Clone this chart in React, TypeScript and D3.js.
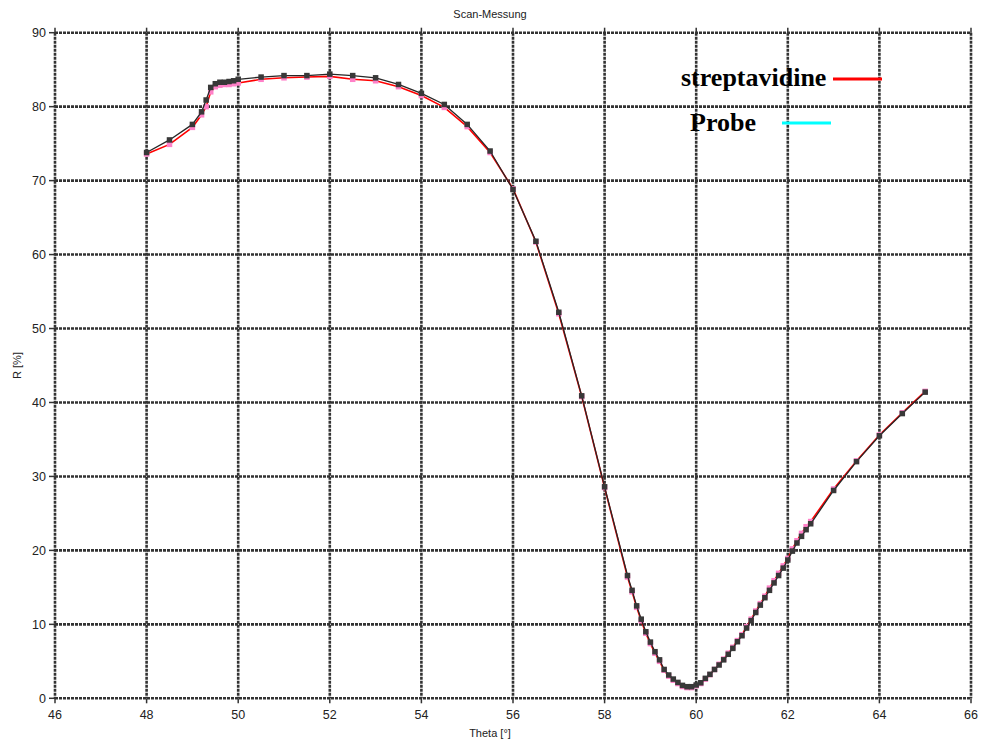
import React from "react";
import * as d3 from "d3";

const thetaDark = [48, 48.5, 49, 49.2, 49.3, 49.4, 49.5, 49.6, 49.7, 49.8, 49.9, 50, 50.5, 51, 51.5, 52, 52.5, 53, 53.5, 54, 54.5, 55, 55.5, 56, 56.5, 57, 57.5, 58, 58.5, 58.6, 58.7, 58.8, 58.9, 59, 59.1, 59.2, 59.3, 59.4, 59.5, 59.6, 59.7, 59.8, 59.9, 60, 60.1, 60.2, 60.3, 60.4, 60.5, 60.6, 60.7, 60.8, 60.9, 61, 61.1, 61.2, 61.3, 61.4, 61.5, 61.6, 61.7, 61.8, 61.9, 62, 62.1, 62.2, 62.3, 62.4, 62.5, 63, 63.5, 64, 64.5, 65];
const rDark = [73.8, 75.5, 77.6, 79.3, 80.9, 82.6, 83.1, 83.3, 83.3, 83.4, 83.5, 83.7, 84.0, 84.2, 84.2, 84.4, 84.2, 83.9, 83.0, 81.8, 80.3, 77.6, 74.0, 68.8, 61.8, 52.2, 40.9, 28.6, 16.6, 14.6, 12.5, 10.7, 9.0, 7.6, 6.3, 5.2, 3.9, 3.15, 2.6, 2.15, 1.75, 1.57, 1.57, 1.8, 2.1, 2.7, 3.24, 3.9, 4.5, 5.2, 5.95, 6.75, 7.65, 8.46, 9.5, 10.5, 11.6, 12.6, 13.6, 14.6, 15.6, 16.6, 17.6, 18.7, 19.9, 21.0, 21.9, 22.8, 23.6, 28.1, 32.0, 35.5, 38.5, 41.4];

const thetaRed = [48, 48.5, 49, 49.2, 49.3, 49.4, 49.5, 49.6, 49.7, 49.8, 49.9, 50, 50.5, 51, 51.5, 52, 52.5, 53, 53.5, 54, 54.5, 55, 55.5, 56, 56.5, 57, 57.5, 58, 58.5, 58.6, 58.7, 58.8, 58.9, 59, 59.1, 59.2, 59.3, 59.4, 59.5, 59.6, 59.7, 59.8, 59.9, 60, 60.1, 60.2, 60.3, 60.4, 60.5, 60.6, 60.7, 60.8, 60.9, 61, 61.1, 61.2, 61.3, 61.4, 61.5, 61.6, 61.7, 61.8, 61.9, 62, 62.1, 62.2, 62.3, 62.4, 62.5, 63, 63.5, 64, 64.5, 65];
const rRed = [73.6, 74.9, 77.2, 78.9, 80.0, 82.0, 82.7, 82.9, 83.0, 83.0, 83.1, 83.2, 83.7, 83.9, 84.0, 84.1, 83.7, 83.5, 82.7, 81.5, 79.9, 77.3, 73.8, 68.9, 61.7, 52.0, 40.8, 28.5, 16.4, 14.4, 12.3, 10.5, 8.8, 7.4, 6.1, 5.0, 3.8, 3.0, 2.45, 2.0, 1.6, 1.45, 1.45, 1.7, 2.0, 2.6, 3.2, 3.9, 4.6, 5.3, 6.1, 6.9, 7.8, 8.6, 9.7, 10.7, 11.8, 12.8, 13.8, 14.9, 15.9, 16.9, 17.9, 18.9, 20.2, 21.3, 22.3, 23.2, 23.9, 28.3, 32.1, 35.6, 38.6, 41.5];

const xTicks = [46, 48, 50, 52, 54, 56, 58, 60, 62, 64, 66];
const yTicks = [0, 10, 20, 30, 40, 50, 60, 70, 80, 90];

const legendNames = ["streptavidine", "Probe"];
const legendColors = ["#ff0000", "#00ffff"];

const W = 982;
const H = 742;
const left = 55;
const right = 971;
const top = 32.7;
const bottom = 698.3;

export default function App() {
  const x = d3.scaleLinear().domain([46, 66]).range([left, right]);
  const y = d3.scaleLinear().domain([0, 90]).range([bottom, top]);
  const darkPts: [number, number][] = thetaDark.map((t, i) => [t, rDark[i]]);
  const redPts: [number, number][] = thetaRed.map((t, i) => [t, rRed[i]]);
  const line = d3
    .line<[number, number]>()
    .x((d) => x(d[0]))
    .y((d) => y(d[1]));
  const gridStyle = { stroke: "#333", strokeWidth: 2.6, strokeDasharray: "3,1", fill: "none" };
  const font = "Liberation Sans, Arial, sans-serif";
  return (
    <svg
      width={W}
      height={H}
      style={{ position: "absolute", left: 0, top: 0, background: "#fff" }}
    >
      <rect x={0} y={0} width={W} height={H} fill="#fff" />
      {/* grid */}
      {xTicks.map((t) => (
        <line key={"gx" + t} x1={x(t)} x2={x(t)} y1={top} y2={bottom} style={gridStyle} />
      ))}
      {yTicks.map((t) => (
        <line key={"gy" + t} x1={left} x2={right} y1={y(t)} y2={y(t)} style={gridStyle} />
      ))}
      {/* ticks */}
      {xTicks.map((t) => (
        <g key={"tx" + t}>
          <line x1={x(t)} x2={x(t)} y1={bottom} y2={bottom + 5} stroke="#333" strokeWidth={1.5} />
          <line x1={x(t)} x2={x(t)} y1={top} y2={top - 5} stroke="#333" strokeWidth={1.5} />
          <text
            x={x(t)}
            y={bottom + 21}
            textAnchor="middle"
            fontFamily={font}
            fontSize={12.5}
            fill="#222"
          >
            {t}
          </text>
        </g>
      ))}
      {yTicks.map((t) => (
        <g key={"ty" + t}>
          <line x1={left - 6} x2={left} y1={y(t)} y2={y(t)} stroke="#333" strokeWidth={1.5} />
          <text
            x={left - 9}
            y={y(t) + 4.5}
            textAnchor="end"
            fontFamily={font}
            fontSize={12.5}
            fill="#222"
          >
            {t}
          </text>
        </g>
      ))}
      {/* titles */}
      <text x={490} y={18} textAnchor="middle" fontFamily={font} fontSize={11} fill="#222">
        Scan-Messung
      </text>
      <text x={490} y={737} textAnchor="middle" fontFamily={font} fontSize={11} fill="#222">
        Theta [°]
      </text>
      <text
        transform={`translate(21,${(top + bottom) / 2}) rotate(-90)`}
        textAnchor="middle"
        fontFamily={font}
        fontSize={11}
        fill="#222"
      >
        R [%]
      </text>
      {/* series */}
      <path d={line(redPts) || ""} fill="none" stroke="#ff0000" strokeWidth={1.6} />
      {redPts.map((d, i) => (
        <rect
          key={"pr" + i}
          x={x(d[0]) - 2.75}
          y={y(d[1]) - 2.75}
          width={5.5}
          height={5.5}
          fill="#ff80c8"
        />
      ))}
      <path d={line(darkPts) || ""} fill="none" stroke="#262626" strokeWidth={1.3} />
      {darkPts.map((d, i) => (
        <rect
          key={"pd" + i}
          x={x(d[0]) - 2.75}
          y={y(d[1]) - 2.75}
          width={5.5}
          height={5.5}
          fill="#383838"
        />
      ))}
      {/* legend */}
      <text x={681} y={86} fontFamily="Liberation Serif, Times New Roman, serif" fontWeight="bold" fontSize={26} fill="#000">
        {legendNames[0]}
      </text>
      <line x1={833} x2={882} y1={79} y2={79} stroke={legendColors[0]} strokeWidth={3} />
      <text x={690} y={131} fontFamily="Liberation Serif, Times New Roman, serif" fontWeight="bold" fontSize={26} fill="#000">
        {legendNames[1]}
      </text>
      <line x1={782} x2={831} y1={123} y2={123} stroke={legendColors[1]} strokeWidth={3} />
    </svg>
  );
}
